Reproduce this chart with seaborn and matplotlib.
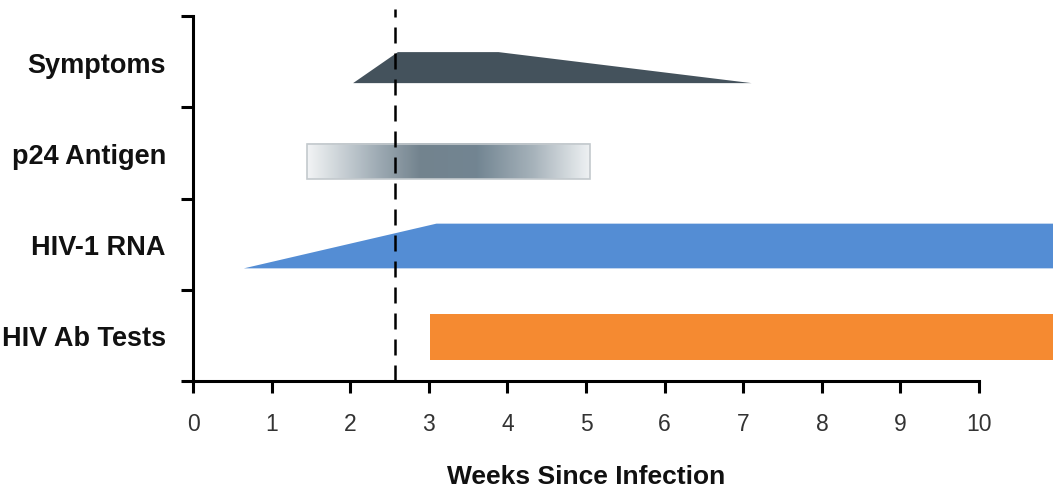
import numpy as np
import matplotlib
matplotlib.use('Agg')
import matplotlib.pyplot as plt
from matplotlib.colors import LinearSegmentedColormap
from matplotlib.patches import Rectangle
import seaborn as sns

# rows from bottom to top
rows = ['HIV Ab Tests', 'HIV-1 RNA', 'p24 Antigen', 'Symptoms']
weeks = list(range(0, 11))

# symptoms: onset, plateau, fade out
symptoms_x = [2.03, 2.6, 3.88, 7.1]
symptoms_top = [3.27, 3.61, 3.61, 3.27]
symptoms_base = 3.27

# p24 antigen window (gradient bar)
p24_start, p24_end = 1.45, 5.05
p24_low, p24_high = 2.21, 2.60
p24_stops = [0.0, 0.25, 0.4, 0.6, 0.8, 1.0]
p24_colors = ['#f2f4f5', '#9eabb4', '#73838e', '#728592', '#a6b2ba', '#eef1f3']

# HIV-1 RNA ramps up then stays
rna_x = [0.64, 3.09, 11.0]
rna_top = [1.24, 1.73, 1.73]
rna_base = 1.24

# antibody tests
ab_start, ab_end = 3.02, 11.0
ab_low, ab_high = 0.23, 0.73

window_week = 2.57

sns.set_theme(style='ticks')
plt.rcParams['font.family'] = ['Liberation Sans', 'DejaVu Sans']

fig = plt.figure(figsize=(10.53, 4.89), dpi=100)
ax = fig.add_axes([0.1833, 0.2188, 0.8167, 0.7464])

ax.fill_between(symptoms_x, symptoms_base, symptoms_top, color='#44525c', lw=0, zorder=2)

cmap = LinearSegmentedColormap.from_list('p24', list(zip(p24_stops, p24_colors)))
ax.imshow(np.linspace(0, 1, 256)[None, :], cmap=cmap, aspect='auto',
          extent=[p24_start, p24_end, p24_low, p24_high], zorder=2)
ax.add_patch(Rectangle((p24_start, p24_low), p24_end - p24_start, p24_high - p24_low,
                       fill=False, ec='#c3c9cd', lw=1.2, zorder=3))

ax.fill_between(rna_x, rna_base, rna_top, color='#548dd4', lw=0, zorder=2)
ax.fill_between([ab_start, ab_end], ab_low, ab_high, color='#f58a31', lw=0, zorder=2)

ax.plot([window_week, window_week], [0, 4.08], ls=(0, (6.4, 4)), color='black',
        lw=1.8, clip_on=False, zorder=5)

ax.set_xlim(0, 10.94)
ax.set_ylim(0, 4)
ax.set_xticks(weeks)
ax.set_yticks([0, 1, 2, 3, 4])
ax.set_yticklabels([])
ax.set_yticks([0.5, 1.5, 2.5, 3.5], minor=True)
ax.set_yticklabels(rows, minor=True, fontweight='bold', fontsize=19.5, color='#111111')

ax.tick_params(axis='both', which='major', length=8.5, width=2.2, color='black', direction='out')
ax.tick_params(axis='y', which='minor', length=0, pad=19.5)
ax.tick_params(axis='x', which='major', labelsize=16.5, pad=13.5, labelcolor='#333333')
ax.tick_params(axis='x', which='minor', bottom=False)

sns.despine(ax=ax)
for s in ['left', 'bottom']:
    ax.spines[s].set_linewidth(2.2)
    ax.spines[s].set_color('black')
ax.spines['bottom'].set_bounds(0, 10)
ax.grid(False)

ax.set_xlabel('Weeks Since Infection', fontsize=19, fontweight='bold', color='#111111')
ax.xaxis.set_label_coords(5 / 10.94, -0.228)

fig.savefig('out.png', dpi=100)
